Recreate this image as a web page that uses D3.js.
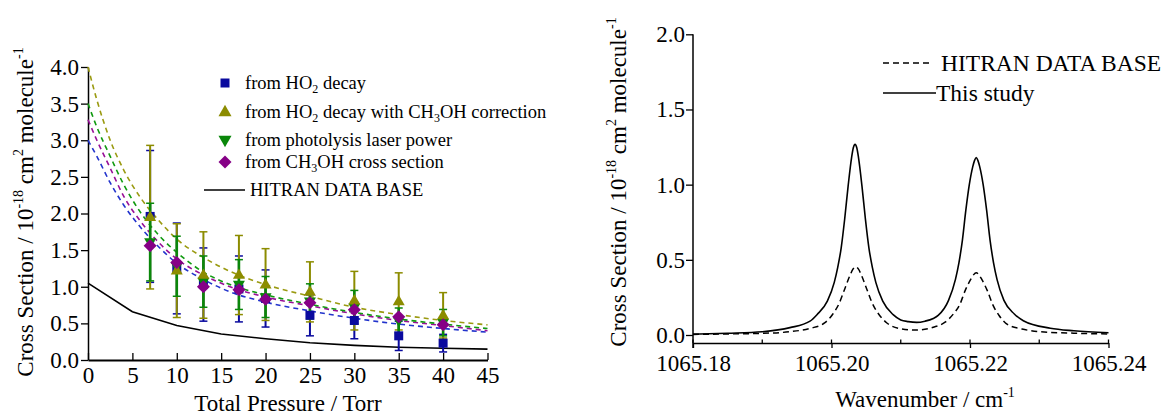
<!DOCTYPE html>
<html>
<head>
<meta charset="utf-8">
<script src="https://cdn.jsdelivr.net/npm/d3@7"></script>
<style>
  body { margin: 0; background: #fff; }
  text { font-family: "Liberation Serif", "Times New Roman", serif; fill: #000; }
</style>
</head>
<body>
<svg id="chart" width="1176" height="417"></svg>
<script>
// ---- Left panel: peak cross section vs. total pressure ----
const pressures = [7, 10, 13, 17, 20, 25, 30, 35, 40];
const ho2Decay = [1.96, 1.25, 1.03, 0.97, 0.84, 0.61, 0.54, 0.33, 0.23];
const ho2DecayErr = [0.90, 0.62, 0.50, 0.45, 0.39, 0.28, 0.25, 0.20, 0.12];
const ho2Corrected = [1.95, 1.22, 1.16, 1.16, 1.03, 0.93, 0.81, 0.80, 0.61];
const ho2CorrectedErr = [0.98, 0.64, 0.59, 0.54, 0.49, 0.41, 0.40, 0.39, 0.31];
const laserPower = [1.61, 1.28, 1.07, 1.03, 0.86, 0.80, 0.72, 0.54, 0.51];
const laserPowerErr = [0.53, 0.41, 0.35, 0.34, 0.28, 0.24, 0.23, 0.17, 0.18];
const methanolCross = [1.56, 1.33, 1.00, 0.96, 0.83, 0.78, 0.685, 0.59, 0.48];

// fitted curves (dashed)
const fitPressures = [0, 1, 2.5, 4, 6, 8, 10, 13, 16, 20, 25, 30, 35, 40, 45];
const fitHo2Decay = [3.00, 2.78, 2.42, 2.12, 1.80, 1.54, 1.32, 1.10, 0.93, 0.79, 0.67, 0.57, 0.49, 0.43, 0.38];
const fitHo2Corrected = [4.00, 3.55, 3.00, 2.60, 2.20, 1.90, 1.65, 1.40, 1.21, 1.03, 0.87, 0.72, 0.62, 0.54, 0.48];
const fitLaserPower = [3.50, 3.18, 2.78, 2.40, 2.00, 1.70, 1.47, 1.20, 1.03, 0.89, 0.76, 0.65, 0.56, 0.49, 0.43];
const fitMethanolCross = [3.28, 3.00, 2.62, 2.24, 1.88, 1.60, 1.38, 1.16, 1.00, 0.86, 0.74, 0.63, 0.54, 0.47, 0.40];

// HITRAN peak cross section
const hitranPressures = [0, 5, 10, 15, 20, 25, 30, 35, 40, 45];
const hitranPeak = [1.05, 0.66, 0.47, 0.355, 0.29, 0.235, 0.20, 0.175, 0.16, 0.148];

const pressureTicks = [0, 5, 10, 15, 20, 25, 30, 35, 40, 45];
const leftSectionTicks = [0, 0.5, 1, 1.5, 2, 2.5, 3, 3.5, 4];

// ---- Right panel: spectra ----
const hitranWavenumber = [1065.1800, 1065.1850, 1065.1900, 1065.1940, 1065.1970, 1065.1990, 1065.2002, 1065.2011,
  1065.2019, 1065.2027, 1065.2031, 1065.2035, 1065.2039, 1065.2043, 1065.2051, 1065.2059, 1065.2068, 1065.2080,
  1065.2100, 1065.2123, 1065.2147, 1065.2164, 1065.2176, 1065.2185, 1065.2193, 1065.2201, 1065.2205, 1065.2209,
  1065.2213, 1065.2217, 1065.2225, 1065.2233, 1065.2242, 1065.2254, 1065.2275, 1065.2300, 1065.2350, 1065.2400];
const hitranSpectrum = [0.004, 0.007, 0.011, 0.022, 0.045, 0.080, 0.140, 0.210,
  0.305, 0.400, 0.438, 0.454, 0.438, 0.400, 0.305, 0.210, 0.140, 0.080,
  0.042, 0.033, 0.052, 0.085, 0.140, 0.200, 0.295, 0.370, 0.400, 0.414,
  0.400, 0.370, 0.295, 0.200, 0.130, 0.070, 0.040, 0.022, 0.012, 0.007];

const studyWavenumber = [1065.1800, 1065.1850, 1065.1900, 1065.1940, 1065.1969, 1065.1979, 1065.1994, 1065.2004,
  1065.2009, 1065.2014, 1065.2019, 1065.2024, 1065.2029, 1065.20315, 1065.2034, 1065.20365, 1065.2039, 1065.2044,
  1065.2049, 1065.2054, 1065.2059, 1065.2064, 1065.2074, 1065.2089, 1065.2100, 1065.2111, 1065.2123, 1065.2135,
  1065.2147, 1065.2154, 1065.2169, 1065.2179, 1065.2184, 1065.2189, 1065.2194, 1065.2199, 1065.2204, 1065.22065,
  1065.2209, 1065.22115, 1065.2214, 1065.2219, 1065.2224, 1065.2229, 1065.2234, 1065.2239, 1065.2249, 1065.2264,
  1065.2277, 1065.2316, 1065.2350, 1065.2400];
const studySpectrum = [0.006, 0.012, 0.022, 0.049, 0.092, 0.135, 0.225, 0.35,
  0.45, 0.58, 0.77, 0.99, 1.18, 1.245, 1.268, 1.245, 1.18, 0.99,
  0.77, 0.58, 0.45, 0.35, 0.225, 0.135, 0.100, 0.089, 0.084, 0.092,
  0.110, 0.130, 0.23, 0.37, 0.48, 0.63, 0.83, 1.00, 1.12, 1.16,
  1.18, 1.16, 1.12, 1.00, 0.83, 0.63, 0.48, 0.37, 0.23, 0.14,
  0.095, 0.045, 0.028, 0.015];

const wavenumberTicks = [1065.18, 1065.20, 1065.22, 1065.24];
const wavenumberMinorTicks = [1065.19, 1065.21, 1065.23];
const rightSectionTicks = [0, 0.5, 1, 1.5, 2];

// ---- colours ----
const cBlue = "#0a0a9e", cOlive = "#8c8c00", cGreen = "#0a870a", cPurple = "#860086";
const cBlueLine = "#2233cc", cOliveLine = "#9a9a10", cGreenLine = "#109a10", cPurpleLine = "#981098";

const serif = '"Liberation Serif", "Times New Roman", serif';
const svg = d3.select("#chart");
const tickFont = 23;

function styleAxis(g, domainWidth) {
  g.attr("font-family", serif);
  if (domainWidth) g.select(".domain").attr("stroke-width", domainWidth);
  g.selectAll(".tick line").attr("stroke-width", 1.3);
  g.selectAll("text").attr("font-size", tickFont).attr("font-family", serif);
}

// ===== LEFT PANEL =====
const xL = d3.scaleLinear().domain([0, 45]).range([88, 487.5]);
const yL = d3.scaleLinear().domain([0, 4]).range([360, 67]);

const gL = svg.append("g");

// x axis (ticks point inward)
const xAxisL = d3.axisBottom(xL).tickValues(pressureTicks).tickFormat(d3.format("d"))
  .tickSizeInner(-7).tickSizeOuter(0).tickPadding(7);
gL.append("g").attr("transform", `translate(0,${yL(0)})`).call(xAxisL).call(g => styleAxis(g, 2));

const yAxisL = d3.axisLeft(yL).tickValues(leftSectionTicks).tickFormat(d3.format(".1f"))
  .tickSizeInner(7).tickSizeOuter(0).tickPadding(2);
gL.append("g").attr("transform", `translate(${xL(0)},0)`).call(yAxisL).call(g => styleAxis(g, 1.5));

// HITRAN solid line
const lineL = d3.line().x(d => xL(d[0])).y(d => yL(d[1]));
gL.append("path").datum(d3.zip(hitranPressures, hitranPeak))
  .attr("d", lineL).attr("fill", "none").attr("stroke", "#000").attr("stroke-width", 1.6);

// dashed fits
const fitLine = d3.line().x(d => xL(d[0])).y(d => yL(d[1])).curve(d3.curveMonotoneX);
[[fitHo2Decay, cBlueLine], [fitMethanolCross, cPurpleLine], [fitLaserPower, cGreenLine], [fitHo2Corrected, cOliveLine]]
  .forEach(([vals, col]) => {
    gL.append("path").datum(d3.zip(fitPressures, vals)).attr("d", fitLine)
      .attr("fill", "none").attr("stroke", col).attr("stroke-width", 1.6).attr("stroke-dasharray", "5,4");
  });

// error bars
function errorBars(vals, errs, col, width) {
  const g = gL.append("g").attr("stroke", col).attr("stroke-width", width);
  pressures.forEach((p, i) => {
    const x = xL(p), y1 = yL(vals[i] + errs[i]), y0 = yL(vals[i] - errs[i]);
    g.append("line").attr("x1", x).attr("x2", x).attr("y1", y1).attr("y2", y0);
    g.append("line").attr("x1", x - 4).attr("x2", x + 4).attr("y1", y1).attr("y2", y1).attr("stroke-width", 1.5);
    g.append("line").attr("x1", x - 4).attr("x2", x + 4).attr("y1", y0).attr("y2", y0).attr("stroke-width", 1.5);
  });
}
errorBars(ho2Decay, ho2DecayErr, cBlue, 2);
errorBars(ho2Corrected, ho2CorrectedErr, cOlive, 2);
errorBars(laserPower, laserPowerErr, cGreen, 2.6);

// marker shapes
const shapes = {
  square: s => `M${-s/2},${-s/2}h${s}v${s}h${-s}Z`,
  up: s => `M0,${-s*0.55}L${s/2},${s*0.32}L${-s/2},${s*0.32}Z`,
  down: s => `M0,${s*0.55}L${s/2},${-s*0.32}L${-s/2},${-s*0.32}Z`,
  diamond: s => `M0,${-s/2}L${s/2},0L0,${s/2}L${-s/2},0Z`
};
function markers(vals, shape, size, col) {
  gL.append("g").selectAll("path").data(d3.zip(pressures, vals)).join("path")
    .attr("transform", d => `translate(${xL(d[0])},${yL(d[1])})`)
    .attr("d", shapes[shape](size)).attr("fill", col);
}
markers(ho2Decay, "square", 9, cBlue);
markers(laserPower, "down", 12, cGreen);
markers(ho2Corrected, "up", 12, cOlive);
markers(methanolCross, "diamond", 13, cPurple);

// legend (left)
const legL = svg.append("g");
const legItems = [
  { y: 83, shape: "square", size: 9, col: cBlue, parts: [["from HO"], ["2", "sub"], [" decay"]] },
  { y: 112, shape: "up", size: 13, col: cOlive, parts: [["from HO"], ["2", "sub"], [" decay with CH"], ["3", "sub"], ["OH correction"]] },
  { y: 140, shape: "down", size: 13, col: cGreen, parts: [["from photolysis laser power"]] },
  { y: 162, shape: "diamond", size: 13, col: cPurple, parts: [["from CH"], ["3", "sub"], ["OH cross section"]] }
];
legItems.forEach(it => {
  legL.append("path").attr("transform", `translate(225,${it.y})`).attr("d", shapes[it.shape](it.size)).attr("fill", it.col);
  const t = legL.append("text").attr("x", 245).attr("y", it.y + 6).attr("font-size", 18.5);
  it.parts.forEach(([s, kind]) => {
    if (kind === "sub") t.append("tspan").attr("font-size", 12).attr("dy", 4).text(s);
    else {
      const ts = t.append("tspan").text(s);
      if (t.selectAll("tspan").size() > 1) ts.attr("dy", -4);
    }
  });
});
legL.append("line").attr("x1", 204).attr("x2", 245).attr("y1", 190).attr("y2", 190).attr("stroke", "#000").attr("stroke-width", 1.6);
legL.append("text").attr("x", 250).attr("y", 196).attr("font-size", 18.5).text("HITRAN DATA BASE");

// axis titles (left)
svg.append("text").attr("x", 288).attr("y", 411).attr("text-anchor", "middle").attr("font-size", 23)
  .text("Total Pressure / Torr");
function sectionTitle(x, y) {
  const t = svg.append("text").attr("transform", `translate(${x},${y}) rotate(-90)`)
    .attr("text-anchor", "middle").attr("font-size", 23);
  t.append("tspan").text("Cross Section / 10");
  t.append("tspan").attr("font-size", 14).attr("dy", -10).text("-18");
  t.append("tspan").attr("dy", 10).text(" cm");
  t.append("tspan").attr("font-size", 14).attr("dy", -10).text("2");
  t.append("tspan").attr("dy", 10).text(" molecule");
  t.append("tspan").attr("font-size", 14).attr("dy", -10).text("-1");
}
sectionTitle(33, 212);

// ===== RIGHT PANEL =====
const xR = d3.scaleLinear().domain([1065.18, 1065.24]).range([693, 1108.5]);
const yR = d3.scaleLinear().domain([0, 2]).range([335, 34.3]);
const axisYR = 343;
const gR = svg.append("g");

const xAxisR = d3.axisBottom(xR).tickValues(wavenumberTicks).tickFormat(d3.format(".2f"))
  .tickSizeInner(5).tickSizeOuter(0).tickPadding(7);
gR.append("g").attr("transform", `translate(0,${axisYR})`).call(xAxisR).call(g => styleAxis(g, 1.5));
// upward parts of the ticks, plus the minor ticks
gR.append("g").selectAll("line").data(wavenumberTicks.concat(wavenumberMinorTicks)).join("line")
  .attr("x1", d => xR(d)).attr("x2", d => xR(d)).attr("y1", axisYR).attr("y2", axisYR - 3.5)
  .attr("stroke", "#000").attr("stroke-width", 1.3);

const yAxisR = d3.axisLeft(yR).tickValues(rightSectionTicks).tickFormat(d3.format(".1f"))
  .tickSizeInner(7).tickSizeOuter(0).tickPadding(1);
gR.append("g").attr("transform", `translate(${xR(1065.18)},0)`).call(yAxisR)
  .call(g => { styleAxis(g); g.select(".domain").remove(); });
gR.append("line").attr("x1", xR(1065.18)).attr("x2", xR(1065.18)).attr("y1", yR(2)).attr("y2", axisYR + 5)
  .attr("stroke", "#000").attr("stroke-width", 1.5);

const specLine = d3.line().x(d => xR(d[0])).y(d => yR(d[1])).curve(d3.curveMonotoneX);
gR.append("path").datum(d3.zip(hitranWavenumber, hitranSpectrum)).attr("d", specLine)
  .attr("fill", "none").attr("stroke", "#000").attr("stroke-width", 1.5).attr("stroke-dasharray", "6,4");
gR.append("path").datum(d3.zip(studyWavenumber, studySpectrum)).attr("d", specLine)
  .attr("fill", "none").attr("stroke", "#000").attr("stroke-width", 1.6);

// legend (right)
svg.append("line").attr("x1", 883).attr("x2", 932).attr("y1", 63).attr("y2", 63)
  .attr("stroke", "#000").attr("stroke-width", 1.5).attr("stroke-dasharray", "6,4");
svg.append("text").attr("x", 941).attr("y", 71).attr("font-size", 23.5).text("HITRAN DATA BASE");
svg.append("line").attr("x1", 883).attr("x2", 936).attr("y1", 93).attr("y2", 93)
  .attr("stroke", "#000").attr("stroke-width", 1.6);
svg.append("text").attr("x", 936).attr("y", 101).attr("font-size", 23.5).text("This study");

// axis titles (right)
const wt = svg.append("text").attr("x", 925).attr("y", 407).attr("text-anchor", "middle").attr("font-size", 23);
wt.append("tspan").text("Wavenumber / cm");
wt.append("tspan").attr("font-size", 14).attr("dy", -10).text("-1");
sectionTitle(626, 182);
</script>
</body>
</html>
